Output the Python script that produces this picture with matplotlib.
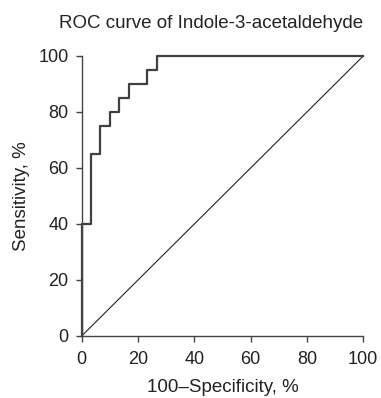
from matplotlib import pyplot as plt

plt.rcParams['font.family'] = ['Liberation Sans', 'DejaVu Sans']

# ROC points (percent), held until the next x
fpr = [0, 0, 3.33, 6.67, 10, 13.33, 16.67, 23.33, 26.67, 100]
tpr = [0, 40, 65, 75, 80, 85, 90, 95, 100, 100]
ticks = [0, 20, 40, 60, 80, 100]

text_color = '#222222'
axis_color = '#444444'

fig = plt.figure(figsize=(3.81, 3.98), dpi=100)
ax = fig.add_axes([0.2144, 0.1558, 0.739, 0.7035])

ax.plot([0, 100], [0, 100], color='#222222', lw=0.8)
ax.plot(fpr, tpr, drawstyle='steps-post', color='#404040', lw=1.6, clip_on=False)

ax.set_xlim(0, 100)
ax.set_ylim(0, 100)
ax.set_xticks(ticks)
ax.set_yticks(ticks)

for side in ['top', 'right']:
    ax.spines[side].set_visible(False)
for side in ['left', 'bottom']:
    ax.spines[side].set_color(axis_color)
    ax.spines[side].set_linewidth(1.0)

ax.tick_params(direction='out', length=4.5, width=1.0, color=axis_color,
               labelsize=13, labelcolor=text_color)
ax.tick_params(axis='x', pad=6)
ax.tick_params(axis='y', pad=5)

ax.set_xlabel('100\u2013Specificity, %', fontsize=13.5, color=text_color, labelpad=8)
ax.set_ylabel('Sensitivity, %', fontsize=13.5, color=text_color, labelpad=6)
ax.set_title('ROC curve of Indole-3-acetaldehyde', fontsize=13.5, color=text_color,
             loc='right', pad=20)

fig.savefig('out.png', dpi=100)
